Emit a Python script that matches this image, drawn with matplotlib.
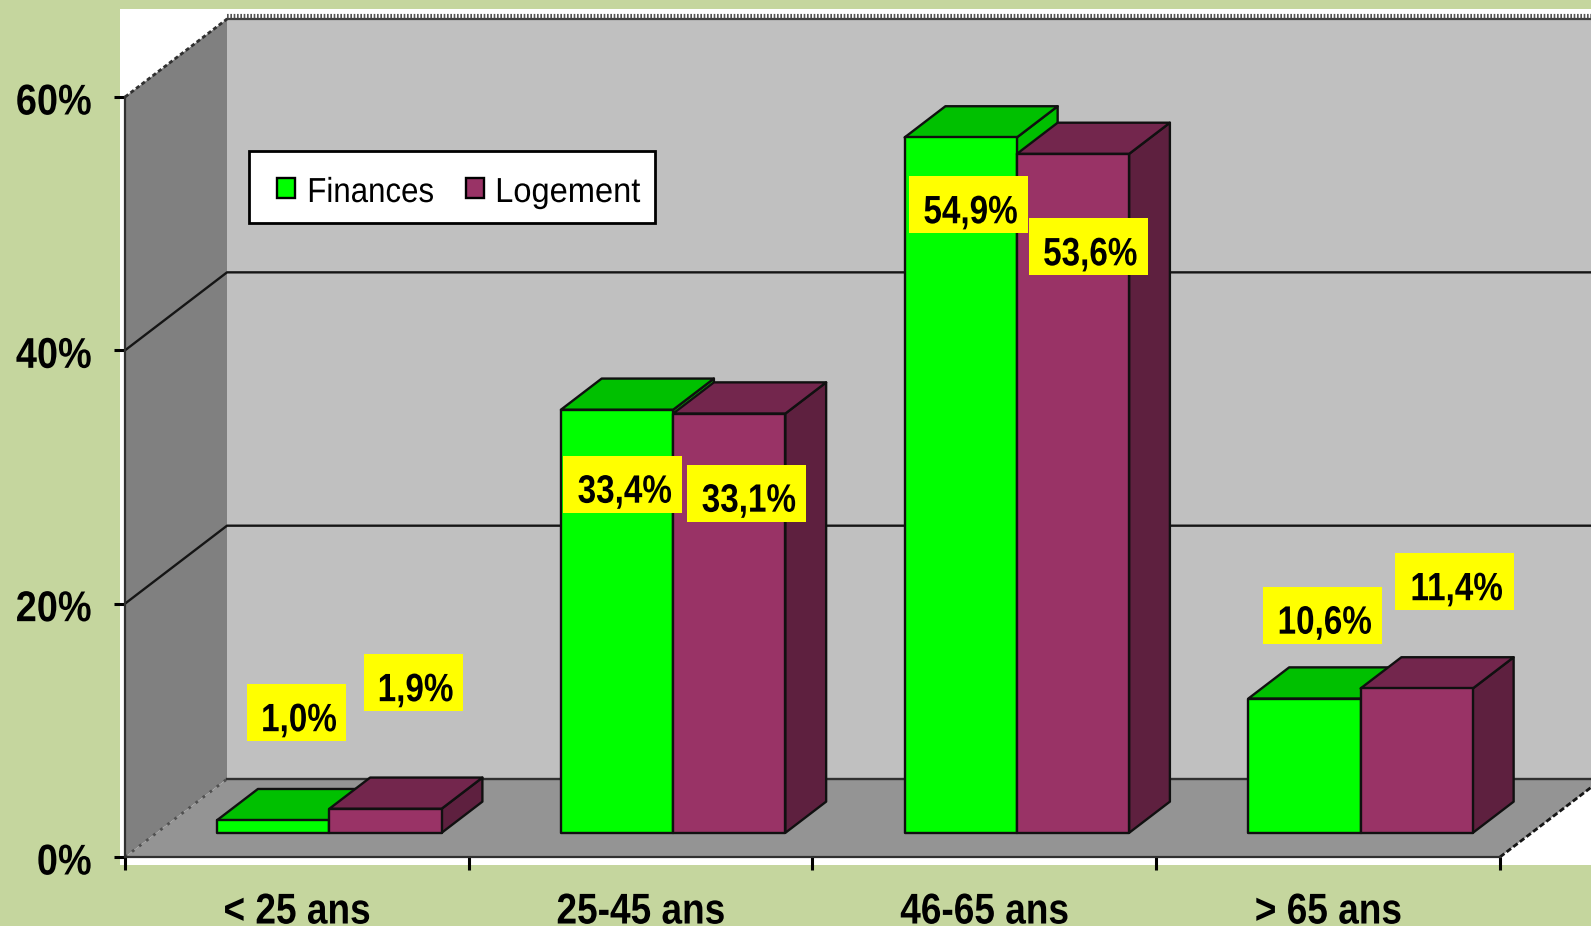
#!/usr/bin/env python3
"""Old style 3D column chart: Finances / Logement by age group."""

import matplotlib

matplotlib.use("Agg")
import matplotlib.pyplot as plt  # noqa: E402
from matplotlib.patches import Polygon, Rectangle  # noqa: E402
from matplotlib.patheffects import AbstractPathEffect  # noqa: E402
from matplotlib.transforms import Affine2D  # noqa: E402

CATEGORIES = ["< 25 ans", "25-45 ans", "46-65 ans", "> 65 ans"]
FINANCES = [1.0, 33.4, 54.9, 10.6]
LOGEMENT = [1.9, 33.1, 53.6, 11.4]
FIN_LABELS = ["1,0%", "33,4%", "54,9%", "10,6%"]
LOG_LABELS = ["1,9%", "33,1%", "53,6%", "11,4%"]
SERIES = ["Finances", "Logement"]
Y_TICKS = [0, 20, 40, 60]

# label box centres, in data units (placed by hand in the original)
FIN_LABEL_POS = [(0.50, 11.4), (1.448, 29.44), (2.454, 51.5), (3.484, 19.1)]
LOG_LABEL_POS = [(0.839, 13.77), (1.809, 28.73), (2.802, 48.18), (3.868, 21.74)]

W, H = 1591, 926
BG = "#C5D69E"
FONT = "Liberation Sans"

# depth of the box, data units
DX = 102 / 343.75
DY = 78 / 12.67
BAR_W = 0.3265
BAR_GAP = 0.176
D0, D1 = 0.31, 0.71
LINE = "#151515"


class Squeeze(AbstractPathEffect):
    """No narrow font installed, so squeeze the glyphs sideways around a pivot."""

    def __init__(self, sx, pivot="center", dy=0):
        super().__init__()
        self.sx = sx
        self.pivot = pivot
        self.dy = dy

    def draw_path(self, renderer, gc, tpath, affine, rgbFace=None):
        box = tpath.get_extents(affine)
        x0 = {"left": box.x0, "center": (box.x0 + box.x1) / 2, "right": box.x1}[self.pivot]
        squeeze = Affine2D().translate(-x0, 0).scale(self.sx, 1).translate(x0, self.dy)
        renderer.draw_path(gc, tpath, affine + squeeze, rgbFace)


def proj(x, v, d=0.0):
    return (x + d * DX, v + d * DY)


def draw_bar(ax, x, v, front, top, side, z):
    kw = dict(edgecolor="#101010", linewidth=1.7, joinstyle="round", zorder=z, clip_on=False)
    ax.add_patch(Polygon([proj(x + BAR_W, 0, D0), proj(x + BAR_W, 0, D1),
                          proj(x + BAR_W, v, D1), proj(x + BAR_W, v, D0)], facecolor=side, **kw))
    ax.add_patch(Polygon([proj(x, v, D0), proj(x + BAR_W, v, D0),
                          proj(x + BAR_W, v, D1), proj(x, v, D1)], facecolor=top, **kw))
    ax.add_patch(Polygon([proj(x, 0, D0), proj(x + BAR_W, 0, D0),
                          proj(x + BAR_W, v, D0), proj(x, v, D0)], facecolor=front, **kw))


def draw_label(ax, pos, text):
    # box size follows the text length
    w = (119 if len(text) > 4 else 99) / 343.75
    h = 57 / 12.67
    ax.add_patch(Rectangle((pos[0] - w / 2, pos[1] - h / 2), w, h, facecolor="#FFFF00",
                           edgecolor="none", zorder=20, clip_on=False))
    ax.text(pos[0] + 0.006, pos[1] - 0.6, text, ha="center", va="center", family=FONT,
            fontweight="bold", fontsize=28.5, color="black", zorder=21,
            path_effects=[Squeeze(0.84)])


def draw_legend(fig):
    def fx(px):
        return px / W

    def fy(py):
        return (H - py) / H

    tf = fig.transFigure
    fig.add_artist(Rectangle((fx(249), fy(223)), 406 / W, 72 / H, facecolor="white", edgecolor="black",
                             linewidth=2, transform=tf, zorder=30))
    for name, color, hx, tx, sx in zip(SERIES, ["#00FF00", "#993366"], [277, 466], [307, 495], [0.9, 0.94]):
        fig.add_artist(Rectangle((fx(hx), fy(198)), 18 / W, 20 / H, facecolor=color, edgecolor="black",
                                 linewidth=1.7, transform=tf, zorder=31))
        fig.text(fx(tx), fy(202), name, ha="left", va="baseline", family=FONT, fontsize=25, zorder=32,
                 path_effects=[Squeeze(sx, "left")])


def main():
    fig = plt.figure(figsize=(W / 100, H / 100), dpi=100, facecolor=BG)
    fig.add_artist(Rectangle((120 / W, (H - 865) / H), 1 - 120 / W, 856 / H, facecolor="white",
                             edgecolor="none", transform=fig.transFigure, zorder=0))

    ax = fig.add_axes([125 / W, (H - 857) / H, 1375 / W, 760 / H])
    ax.patch.set_visible(False)
    ax.set_xlim(0, 4)
    ax.set_ylim(0, 60)
    n = len(CATEGORIES)

    # walls and floor
    ax.add_patch(Polygon([proj(0, 0), proj(0, 60), proj(0, 60, 1), proj(0, 0, 1)],
                         facecolor="#808080", edgecolor="none", zorder=1, clip_on=False))
    ax.add_patch(Polygon([proj(0, 0, 1), proj(0, 60, 1), proj(n, 60, 1), proj(n, 0, 1)],
                         facecolor="#C0C0C0", edgecolor="none", zorder=1, clip_on=False))
    ax.add_patch(Polygon([proj(0, 0), proj(n, 0), proj(n, 0, 1), proj(0, 0, 1)],
                         facecolor="#949494", edgecolor="none", zorder=1, clip_on=False))

    # gridlines, wall then back
    for v in Y_TICKS[1:-1]:
        ax.plot(*zip(proj(0, v), proj(0, v, 1), proj(n, v, 1)), color=LINE, lw=1.7, zorder=1.5,
                clip_on=False)
    ax.plot(*zip(proj(0, 0, 1), proj(n, 0, 1)), color="#303030", lw=1.7, zorder=1.5, clip_on=False)
    ax.plot(*zip(proj(0, 60, 1), proj(n, 60, 1)), color="#404040", lw=1.6, zorder=1.5, clip_on=False)
    ax.plot(*zip(proj(0, 60.25, 1), proj(n, 60.25, 1)), color="#555555", lw=3, ls=(0, (0.4, 0.4)),
            zorder=1.5, clip_on=False)
    ax.plot(*zip(proj(0, 60), proj(0, 60, 1)), color="#303030", lw=2, ls=(0, (1.5, 1)), zorder=1.5,
            clip_on=False)
    ax.plot(*zip(proj(0, 0), proj(0, 0, 1)), color="#505050", lw=2, ls=(0, (1, 2.2)), zorder=1.5,
            clip_on=False)
    ax.plot(*zip(proj(n, 0), proj(n, 0, 1)), color="#151515", lw=2, ls=(0, (2, 1)), zorder=1.5,
            clip_on=False)

    # bars, back to front, left to right
    for i in range(n):
        x = i + BAR_GAP
        z = 3 + i
        draw_bar(ax, x, FINANCES[i], "#00FF00", "#00C000", "#00C000", z)
        draw_bar(ax, x + BAR_W, LOGEMENT[i], "#993366", "#73264D", "#5E203F", z + 0.5)

    for i in range(n):
        draw_label(ax, FIN_LABEL_POS[i], FIN_LABELS[i])
        draw_label(ax, LOG_LABEL_POS[i], LOG_LABELS[i])

    # axes
    for s in ("top", "right"):
        ax.spines[s].set_visible(False)
    for s in ("left", "bottom"):
        ax.spines[s].set_linewidth(1.6)
        ax.spines[s].set_color("#303030")
        ax.spines[s].set_zorder(2)
    ax.set_yticks(Y_TICKS)
    ax.set_yticklabels([f"{v}%" for v in Y_TICKS], family=FONT, fontweight="bold", fontsize=31)
    for lab in ax.get_yticklabels():
        lab.set_path_effects([Squeeze(0.88, "right", dy=-2)])
    ax.set_xticks(range(n + 1))
    ax.set_xticklabels([""] * (n + 1))
    ax.tick_params(axis="y", length=8, width=2.2, color="black", pad=16)
    ax.tick_params(axis="x", length=9.5, width=2.2, color="black")
    for i, name in enumerate(CATEGORIES):
        ax.annotate(name, (i + 0.5, 0), xytext=(0, -47.9), textcoords="offset points",
                    ha="center", va="baseline", family=FONT, fontweight="bold", fontsize=31,
                    annotation_clip=False, path_effects=[Squeeze(0.86)])

    draw_legend(fig)

    fig.savefig("out.png", dpi=100, facecolor=BG)


if __name__ == "__main__":
    main()
